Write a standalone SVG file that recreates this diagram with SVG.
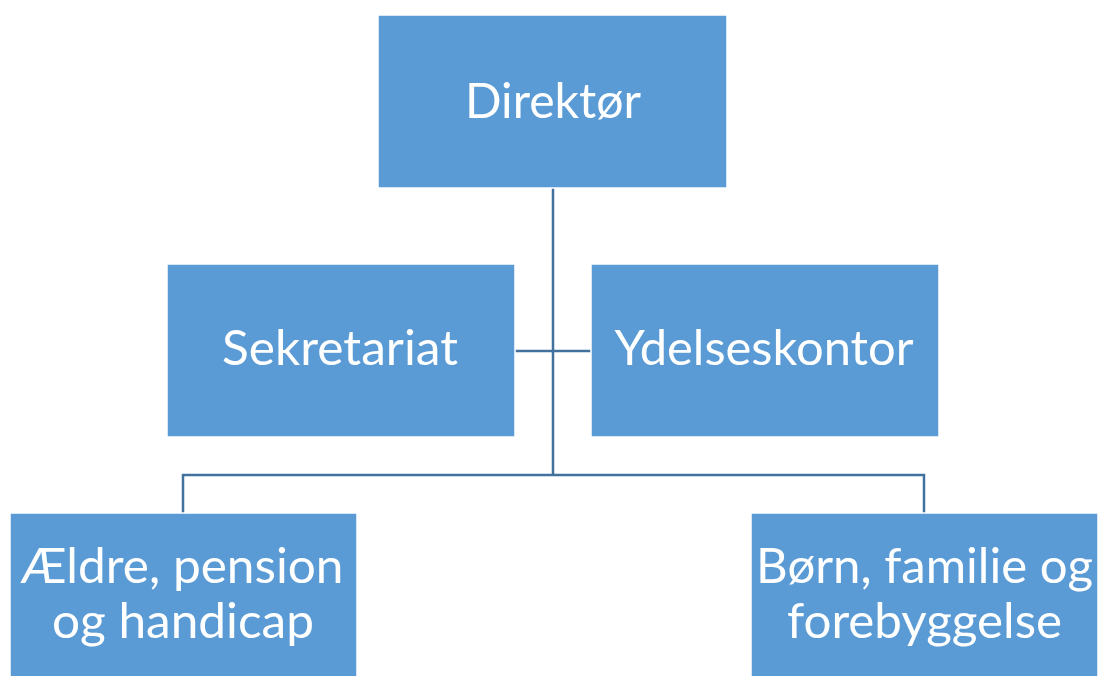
<svg xmlns="http://www.w3.org/2000/svg" width="1099" height="676" viewBox="0 0 1099 676">
<style>
.box{fill:#5B9BD5;stroke:#FFFFFF;stroke-width:1.5}
.lbl{fill:#FFFFFF;font-family:Lato,"Open Sans","Liberation Sans",sans-serif;font-size:48px;text-anchor:middle}
.conn{fill:none;stroke:#41719C;stroke-width:2.5}
</style>
<rect width="1099" height="676" fill="#FFFFFF"/>
<g id="connectors">
<path class="conn" d="M553 188 V475"/>
<path class="conn" d="M515 351 H591"/>
<path class="conn" d="M183 513 V475 H924 V513"/>
</g>
<g id="direktor">
<rect class="box" x="378" y="15" width="349" height="173"/>
<text class="lbl" x="553" y="118" textLength="176" lengthAdjust="spacingAndGlyphs">Direktør</text>
</g>
<g id="sekretariat">
<rect class="box" x="167" y="264" width="348" height="173"/>
<text class="lbl" x="340" y="365" textLength="236" lengthAdjust="spacingAndGlyphs">Sekretariat</text>
</g>
<g id="ydelseskontor">
<rect class="box" x="591" y="264" width="348" height="173"/>
<text class="lbl" x="764" y="365" textLength="299" lengthAdjust="spacingAndGlyphs">Ydelseskontor</text>
</g>
<g id="aeldre">
<rect class="box" x="10" y="513" width="347" height="175"/>
<text class="lbl" x="182" y="583" textLength="323" lengthAdjust="spacingAndGlyphs">Ældre, pension</text>
<text class="lbl" x="183" y="638" textLength="262" lengthAdjust="spacingAndGlyphs">og handicap</text>
</g>
<g id="born">
<rect class="box" x="751" y="513" width="347" height="175"/>
<text class="lbl" x="924.5" y="583" textLength="337" lengthAdjust="spacingAndGlyphs">Børn, familie og</text>
<text class="lbl" x="924.5" y="638" textLength="275" lengthAdjust="spacingAndGlyphs">forebyggelse</text>
</g>
</svg>
